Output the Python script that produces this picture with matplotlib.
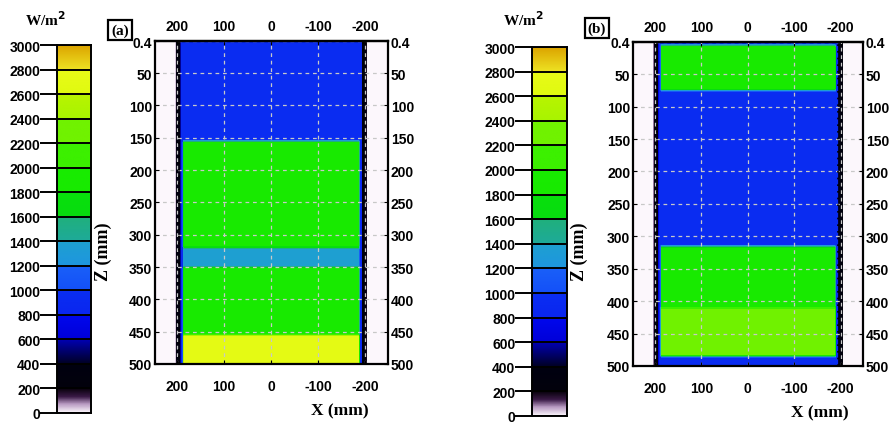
import numpy as np
import matplotlib
matplotlib.use("Agg")
import matplotlib.pyplot as plt
from matplotlib.colors import LinearSegmentedColormap

plt.rcParams['font.family'] = ['Liberation Sans', 'DejaVu Sans']
plt.rcParams['font.weight'] = 'bold'

# irradiance bands along the height of each receiver, W/m^2
z_edges_a = [0, 155, 322, 352, 456, 500]
flux_a = [950, 1850, 1380, 1850, 2700]
z_edges_b = [0, 5, 76, 314, 412, 486, 500]
flux_b = [950, 1850, 950, 1800, 2300, 950]

# rim of the absorber: half width of the lit part, blue rim, dark edge
half_lit = 187
half_rim = 192
half_edge = 202
flux_rim = 950
flux_edge = 320

cbar_levels = list(range(0, 3001, 200))
x_ticks = [200, 100, 0, -100, -200]
z_ticks = [0.4, 50, 100, 150, 200, 250, 300, 350, 400, 450, 500]
z_ticklabels = ["0.4", "50", "100", "150", "200", "250", "300", "350",
                "400", "450", "500"]

# stepped colour scale, one colour (or short ramp) per 200 W/m^2 band
nodes = [
    (0, "#fcf7fc"), (70, "#b89ac2"), (130, "#3a1a46"), (200, "#050008"),
    (200, "#03020c"), (400, "#000010"),
    (400, "#000024"), (600, "#0000b4"),
    (600, "#0000d8"), (800, "#0008ee"),
    (800, "#0a26f0"), (1000, "#0a2ef2"),
    (1000, "#1450f8"), (1200, "#1a60f8"),
    (1200, "#1e96e0"), (1400, "#1ea0d0"),
    (1400, "#1eaa9a"), (1600, "#20b07c"),
    (1600, "#08dc10"), (1800, "#08e00c"),
    (1800, "#18ea00"), (2000, "#18ec00"),
    (2000, "#3cf000"), (2200, "#3cf000"),
    (2200, "#70f200"), (2400, "#70f200"),
    (2400, "#a8f400"), (2600, "#b8f400"),
    (2600, "#e0fa10"), (2800, "#e8fa18"),
    (2800, "#eee424"), (3000, "#dca400"),
]
cmap = LinearSegmentedColormap.from_list(
    "flux", [(v / 3000, c) for v, c in nodes], N=1024)

dx, dz = 2.5, 5.0
xc = np.arange(-250 + dx / 2, 250, dx)
zc = np.arange(dz / 2, 500, dz)


def build_field(z_edges, flux):
    idx = np.searchsorted(z_edges, zc, side='right') - 1
    idx = np.clip(idx, 0, len(flux) - 1)
    prof = np.array(flux, dtype=float)[idx]
    F = np.tile(prof[:, None], (1, len(xc)))
    r = np.abs(xc)
    F[:, r > half_lit] = flux_rim
    F[:, r > half_rim] = flux_edge
    F[:, r > half_edge] = 0
    return F


fig = plt.figure(figsize=(8.92, 4.27), dpi=100)
W, H = 892, 427


def px_axes(x0, y0, x1, y1):
    return fig.add_axes([x0 / W, 1 - y1 / H, (x1 - x0) / W, (y1 - y0) / H])


def draw_colorbar(cax):
    grad = np.linspace(0, 3000, 600)[:, None]
    cax.imshow(grad, cmap=cmap, vmin=0, vmax=3000, aspect='auto',
               origin='lower', extent=[0, 1, 0, 3000])
    for lv in cbar_levels:
        cax.axhline(lv, color='black', lw=1.4)
    cax.set_xlim(0, 1)
    cax.set_ylim(0, 3000)
    cax.set_xticks([])
    cax.set_yticks(cbar_levels)
    cax.set_yticklabels([str(v) for v in cbar_levels])
    cax.tick_params(axis='y', direction='out', length=12, width=1.4, pad=0,
                    labelsize=10)
    for s in cax.spines.values():
        s.set_linewidth(1.4)


def draw_map(ax, field):
    ax.imshow(field, cmap=cmap, vmin=0, vmax=3000, aspect='auto',
              extent=[-250, 250, 500, 0], interpolation='bilinear',
              interpolation_stage='data')
    ax.set_xlim(247, -248)
    ax.set_ylim(500, 0.4)
    ax.set_xticks(x_ticks)
    ax.set_xticklabels([str(v) for v in x_ticks])
    ax.set_yticks(z_ticks)
    ax.set_yticklabels(z_ticklabels)
    ax.grid(True, color='#c8c8c8', lw=0.9, linestyle=(0, (3, 3)))
    ax.tick_params(axis='x', direction='in', length=3, pad=11, labelsize=10)
    ax.tick_params(axis='y', direction='in', length=3, pad=2, labelsize=10,
                   right=True, labelright=True)
    top = ax.secondary_xaxis('top')
    top.set_xticks(x_ticks)
    top.set_xticklabels([str(v) for v in x_ticks])
    top.tick_params(direction='in', length=3, pad=6, labelsize=10)
    top.spines['top'].set_linewidth(1.6)
    for xe in (half_rim + 3, -half_rim - 3):
        ax.axvline(xe, color='black', lw=1.2, linestyle=(0, (1, 3)))
    for s in ax.spines.values():
        s.set_linewidth(1.6)


serif = dict(family=['Liberation Serif', 'DejaVu Serif'], fontweight='bold')
boxed = dict(boxstyle='square,pad=0.2', fc='white', ec='black', lw=1.6)

panels = [
    dict(field=build_field(z_edges_a, flux_a), tag="(a)",
         cbar=(57, 46, 91, 414), axes=(155, 42, 388, 365),
         unit=(45, 20), tag_xy=(120, 31), zlab=(103, 252), xlab=(340, 411)),
    dict(field=build_field(z_edges_b, flux_b), tag="(b)",
         cbar=(532, 48, 567, 417), axes=(633, 43, 863, 367),
         unit=(523, 20), tag_xy=(597, 29), zlab=(579, 252), xlab=(820, 413)),
]

for p in panels:
    cax = px_axes(*p['cbar'])
    draw_colorbar(cax)
    ax = px_axes(*p['axes'])
    draw_map(ax, p['field'])
    fig.text(p['unit'][0] / W, 1 - p['unit'][1] / H, r"W/m$^\mathbf{2}$",
             ha='center', va='center', fontsize=11, **serif)
    fig.text(p['tag_xy'][0] / W, 1 - p['tag_xy'][1] / H, p['tag'],
             ha='center', va='center', fontsize=11, bbox=boxed, **serif)
    fig.text(p['zlab'][0] / W, 1 - p['zlab'][1] / H, "Z (mm)", rotation=90,
             ha='center', va='center', fontsize=13, **serif)
    fig.text(p['xlab'][0] / W, 1 - p['xlab'][1] / H, "X (mm)",
             ha='center', va='center', fontsize=12.5, **serif)

fig.savefig("out.png", dpi=100)
